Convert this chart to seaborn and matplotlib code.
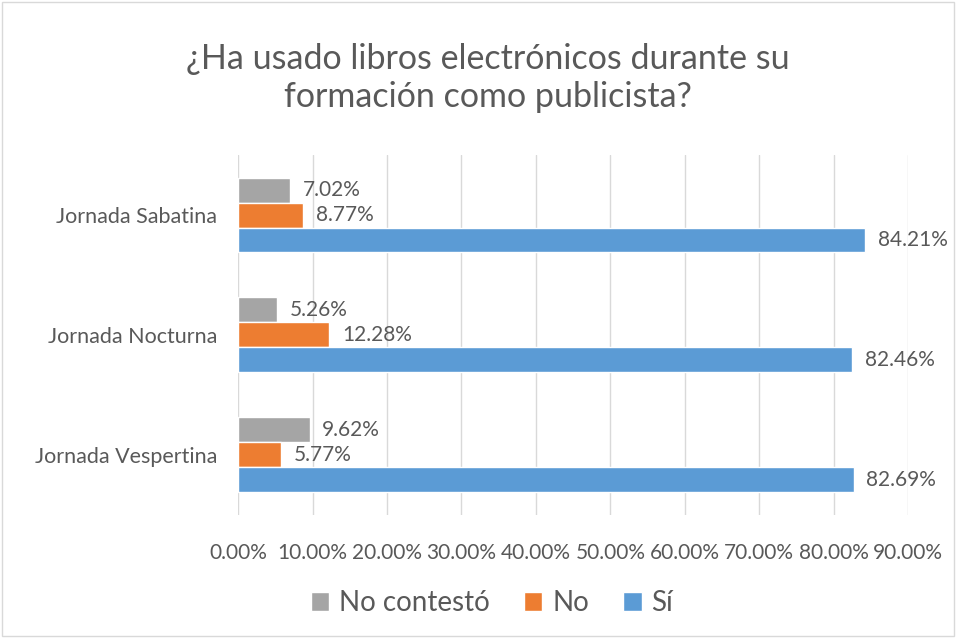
import pandas as pd
import matplotlib.pyplot as plt
import seaborn as sns
from matplotlib.patches import Rectangle

jornadas = ["Jornada Sabatina", "Jornada Nocturna", "Jornada Vespertina"]
respuestas = ["No contestó", "No", "Sí"]
no_contesto = [7.02, 5.26, 9.62]
no = [8.77, 12.28, 5.77]
si = [84.21, 82.46, 82.69]
ticks = [0, 10, 20, 30, 40, 50, 60, 70, 80, 90]

rows = []
for i, j in enumerate(jornadas):
    for r, vals in zip(respuestas, [no_contesto, no, si]):
        rows.append({"jornada": j, "respuesta": r, "valor": vals[i]})
df = pd.DataFrame(rows)

sns.set_theme(style="white")
plt.rcParams["font.family"] = ["Lato", "DejaVu Sans"]
txt = "#595959"
colores = {"No contestó": "#A5A5A5", "No": "#ED7D31", "Sí": "#5B9BD5"}

fig = plt.figure(figsize=(9.56, 6.38), dpi=100)
ax = fig.add_axes([0.249, 0.193, 0.701, 0.564])
sns.barplot(data=df, x="valor", y="jornada", hue="respuesta", order=jornadas,
            hue_order=respuestas, palette=colores, width=0.625, gap=0,
            orient="h", ax=ax, saturation=1)

for cont in ax.containers:
    ax.bar_label(cont, labels=[f"{v:.2f}%" for v in cont.datavalues],
                 padding=9, fontsize=15, color=txt)

ax.set_xlim(0, 90)
ax.set_xticks(ticks)
ax.set_xticklabels([f"{t:.2f}%" for t in ticks])
ax.xaxis.grid(True, color="#d9d9d9", linewidth=1)
ax.set_axisbelow(True)
for s in ax.spines.values():
    s.set_visible(False)
ax.tick_params(axis="x", length=0, pad=20, labelsize=15, labelcolor=txt)
ax.tick_params(axis="y", length=0, pad=15, labelsize=15.5, labelcolor=txt)
ax.set_xlabel("")
ax.set_ylabel("")

ax.legend(loc="center", bbox_to_anchor=(492 / 956, 1 - 603 / 638),
          bbox_transform=fig.transFigure, ncol=3, frameon=False, fontsize=20,
          labelcolor=txt, handlelength=0.65, handleheight=0.65, handletextpad=0.35,
          columnspacing=1.25)

fig.text(0.51, 1 - 78 / 638, "¿Ha usado libros electrónicos durante su\nformación como publicista?",
         ha="center", va="center", fontsize=24.5, color=txt, linespacing=1.25)

fig.patches.append(Rectangle((0.002, 0.003), 0.996, 0.994, transform=fig.transFigure,
                             fill=False, edgecolor="#d9d9d9", linewidth=1))

fig.savefig("out.png", dpi=100)
